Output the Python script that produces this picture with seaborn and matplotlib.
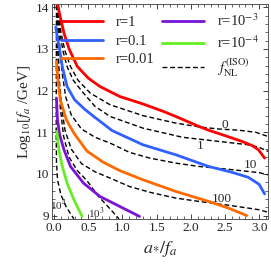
import numpy as np
import pandas as pd
import matplotlib
matplotlib.use("Agg")
import matplotlib.pyplot as plt
import seaborn as sns
from matplotlib.ticker import MultipleLocator

# ---DATA---
# coloured curves: r = tensor-to-scalar ratio
r1_x = [0.05, 0.10, 0.145, 0.22, 0.34, 0.50, 0.67, 0.96, 1.30, 1.60, 1.78, 2.12, 2.26, 2.50, 2.75, 2.90, 2.99, 3.08]
r1_y = [14.06, 13.70, 13.38, 13.00, 12.58, 12.30, 12.10, 11.86, 11.68, 11.50, 11.38, 11.14, 11.05, 10.92, 10.78, 10.68, 10.58, 10.38]

r01_x = [0.025, 0.05, 0.08, 0.12, 0.19, 0.30, 0.45, 0.58, 0.85, 1.30, 1.78, 2.26, 2.60, 2.84, 3.00, 3.08]
r01_y = [13.53, 13.25, 13.00, 12.58, 12.10, 11.78, 11.55, 11.38, 11.04, 10.70, 10.46, 10.18, 10.04, 9.92, 9.75, 9.52]

r001_x = [0.035, 0.06, 0.09, 0.18, 0.29, 0.48, 0.72, 0.96, 1.30, 1.78, 2.26, 2.55, 2.82]
r001_y = [12.70, 12.20, 11.78, 11.30, 10.98, 10.55, 10.28, 10.08, 9.86, 9.58, 9.34, 9.18, 9.00]

r1e3_x = [0.035, 0.05, 0.08, 0.145, 0.24, 0.43, 0.67, 0.96, 1.25]
r1e3_y = [11.82, 11.30, 10.95, 10.58, 10.18, 9.78, 9.46, 9.22, 8.98]

r1e4_x = [0.04, 0.07, 0.12, 0.19, 0.29, 0.41]
r1e4_y = [11.02, 10.58, 10.18, 9.78, 9.38, 8.98]

# dashed curves: constant f_NL^(ISO)
fnl0_x = [0.065, 0.10, 0.16, 0.24, 0.35, 0.53, 0.82, 1.30, 1.78, 2.12, 2.40, 2.70, 2.95, 3.13]
fnl0_y = [14.05, 13.40, 12.95, 12.58, 12.25, 11.94, 11.66, 11.40, 11.22, 11.13, 11.08, 11.05, 11.00, 10.90]

fnl1_x = [0.06, 0.085, 0.13, 0.19, 0.28, 0.43, 0.60, 0.82, 1.30, 1.88, 2.36, 2.84, 3.00, 3.13]
fnl1_y = [14.05, 13.40, 12.95, 12.58, 12.25, 11.94, 11.62, 11.38, 11.10, 10.88, 10.79, 10.70, 10.64, 10.54]

fnl10_x = [0.055, 0.07, 0.09, 0.12, 0.17, 0.25, 0.40, 0.60, 0.82, 1.10, 1.40, 1.78, 2.12, 2.50, 2.84, 3.00, 3.13]
fnl10_y = [14.05, 13.40, 12.90, 12.40, 11.85, 11.42, 11.08, 10.88, 10.74, 10.52, 10.38, 10.26, 10.18, 10.12, 10.06, 10.03, 9.98]

fnl100_x = [0.045, 0.055, 0.065, 0.08, 0.11, 0.16, 0.25, 0.40, 0.60, 0.82, 1.10, 1.40, 1.78, 2.12, 2.50, 2.84, 3.00, 3.13]
fnl100_y = [14.05, 13.40, 12.80, 12.20, 11.60, 11.05, 10.60, 10.25, 10.05, 9.90, 9.70, 9.56, 9.42, 9.34, 9.26, 9.18, 9.14, 9.08]

fnl1e3_x = [0.04, 0.05, 0.065, 0.09, 0.14, 0.22, 0.34, 0.48, 0.65, 0.82, 0.95]
fnl1e3_y = [14.05, 13.20, 12.40, 11.60, 10.90, 10.40, 10.08, 9.84, 9.46, 9.16, 8.92]

fnl1e4_x = [0.035, 0.033, 0.031, 0.035, 0.05, 0.10, 0.18, 0.29]
fnl1e4_y = [14.05, 12.50, 11.00, 10.30, 9.86, 9.50, 9.20, 8.92]

r_labels = ["r=1", "r=0.1", "r=0.01", "r=10$^{-3}$", "r=10$^{-4}$"]
r_colors = ["#ff0000", "#3060ff", "#ff6a00", "#7a12d8", "#66ee22"]
fnl_texts = ["0", "1", "10", "100", "10$^3$", "10$^4$"]

sns.set_style("ticks")
plt.rcParams["font.family"] = ["Liberation Serif", "DejaVu Serif"]
plt.rcParams["mathtext.fontset"] = "stix"

fig = plt.figure(figsize=(2.71, 2.66), dpi=100)
ax = fig.add_axes([0.192, 0.177, 0.797, 0.808])

# dashed f_NL curves first so coloured lines sit on top
dashed = [(fnl0_x, fnl0_y), (fnl1_x, fnl1_y), (fnl10_x, fnl10_y),
          (fnl100_x, fnl100_y), (fnl1e3_x, fnl1e3_y), (fnl1e4_x, fnl1e4_y)]
for i, (xs, ys) in enumerate(dashed):
    sns.lineplot(x=xs, y=ys, ax=ax, color="black", lw=1.0, sort=False,
                 estimator=None, linestyle=(0, (3.5, 2)),
                 label="$f_{\\rm NL}^{\\rm (ISO)}$" if i == 0 else None)

curves = [(r1_x, r1_y), (r01_x, r01_y), (r001_x, r001_y), (r1e3_x, r1e3_y), (r1e4_x, r1e4_y)]
for (xs, ys), lab, c in zip(curves, r_labels, r_colors):
    sns.lineplot(x=xs, y=ys, ax=ax, color=c, lw=2.0, sort=False, estimator=None, label=lab)

# labels on dashed curves
ax.text(2.50, 11.18, fnl_texts[0], fontsize=9.5, ha="center", va="center")
ax.text(2.14, 10.66, fnl_texts[1], fontsize=9.5, ha="center", va="center")
ax.text(2.87, 10.22, fnl_texts[2], fontsize=9.5, ha="center", va="center")
ax.text(2.46, 9.40, fnl_texts[3], fontsize=9.5, ha="center", va="center")
ax.text(0.62, 9.05, fnl_texts[4], fontsize=8, ha="center", va="center")
ax.text(0.06, 9.24, fnl_texts[5], fontsize=8, ha="center", va="center")

ax.set_xlim(-0.03, 3.13)
ax.set_ylim(8.92, 14.08)
ax.xaxis.set_major_locator(MultipleLocator(0.5))
ax.xaxis.set_minor_locator(MultipleLocator(0.1))
ax.yaxis.set_major_locator(MultipleLocator(1))
ax.yaxis.set_minor_locator(MultipleLocator(0.2))
ax.tick_params(which="both", direction="in", top=True, right=True, labelsize=9.5, pad=2)
ax.tick_params(which="major", length=3.5, width=0.6)
ax.tick_params(which="minor", length=2, width=0.5)
for s in ax.spines.values():
    s.set_linewidth(0.7)
    s.set_color("#555555")

ax.set_xlabel("$a_{*}/f_a$", fontsize=13, labelpad=4)
ax.set_ylabel("Log$_{10}$[$f_a$ /GeV]", fontsize=11, labelpad=2)

# legend in two columns, dashed entry last
h, l = ax.get_legend_handles_labels()
order = [1, 2, 3, 4, 5, 0]
ax.legend([h[i] for i in order], [l[i] for i in order], ncol=2, loc="upper right",
          frameon=False, fontsize=10.5, handlelength=2.9, handletextpad=0.9,
          columnspacing=0.5, labelspacing=0.35, borderaxespad=0.2,
          bbox_to_anchor=(1.0, 1.0))

fig.savefig("out.png", dpi=100)
